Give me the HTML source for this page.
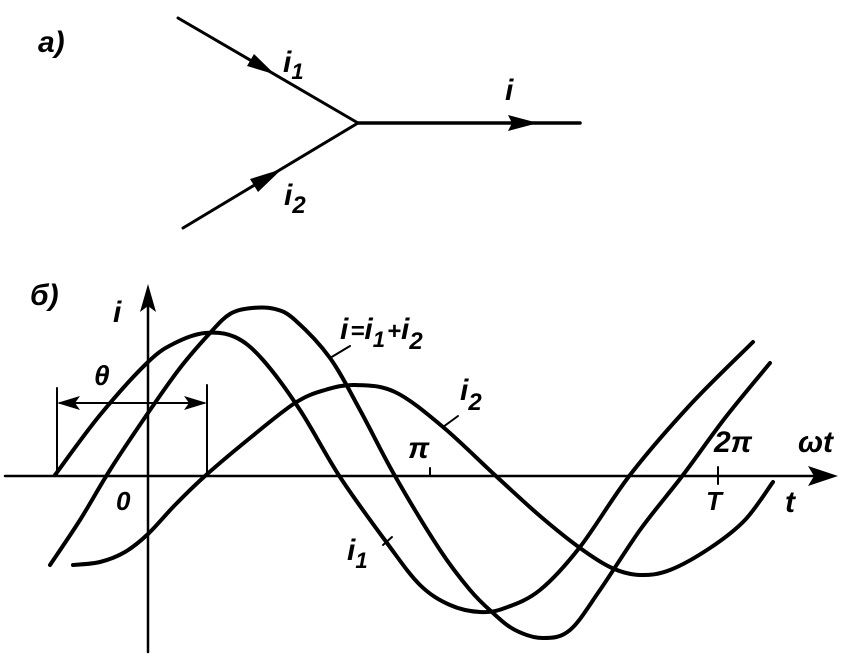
<!DOCTYPE html>
<html><head><meta charset="utf-8"><style>
html,body{margin:0;padding:0;background:#fff}
svg{display:block}
text{font-family:"Liberation Sans",sans-serif;font-style:italic;font-weight:bold;fill:#000}
</style></head><body>
<svg width="862" height="663" viewBox="0 0 862 663" xmlns="http://www.w3.org/2000/svg">
<g stroke="#000" fill="none" stroke-linecap="round" stroke-linejoin="round">
<line x1="178" y1="18" x2="358" y2="123" stroke-width="3"/>
<line x1="183" y1="228" x2="358" y2="123" stroke-width="3"/>
<line x1="358" y1="123" x2="580" y2="123" stroke-width="3.5"/>
<line x1="5" y1="476" x2="830" y2="476" stroke-width="2.5"/>
<line x1="148" y1="292" x2="148" y2="652" stroke-width="2.5"/>
<line x1="57" y1="388" x2="57" y2="476" stroke-width="2"/>
<line x1="207" y1="385" x2="207" y2="476" stroke-width="2"/>
<line x1="60" y1="403" x2="204" y2="403" stroke-width="2"/>
<line x1="430" y1="468" x2="430" y2="476" stroke-width="2"/>
<line x1="718" y1="467" x2="718" y2="484" stroke-width="2"/>
<line x1="330" y1="358" x2="350" y2="346" stroke-width="2"/>
<line x1="443" y1="427" x2="458" y2="416" stroke-width="2"/>
<line x1="383" y1="545" x2="392" y2="537" stroke-width="2"/>
<polyline class="c" stroke-width="4" points="55,475 100,415 148,362 175,343 205,333 235,337 263,360 300,410 340,477 387,543 420,585 450,605 480,612 505,608 540,590 580,547 630,475 690,405 753,342"/>
<polyline class="c" stroke-width="4" points="50,565 80,520 110,470 148,413 180,368 210,333 230,314 252,308 275,309 295,320 330,358 360,410 395,476 440,550 470,590 493,613 515,630 543,638 570,630 600,590 640,530 683,475 725,418 770,363"/>
<polyline class="c" stroke-width="4" points="73,565 100,562 125,552 148,534 175,505 205,476 250,438 295,403 325,390 355,385 395,392 443,427 497,477 540,516 580,548 612,568 640,575 670,570 710,548 745,520 773,482"/>
</g>
<g fill="#000">
<polygon points="275,74.5 247,66 254,54"/>
<polygon points="282,169 258,192 250,179"/>
<polygon points="538,123 508,115 512,123 508,131"/>
<polygon points="838,476 808,466 814,476 808,486"/>
<polygon points="148,284 140,312 148,306 156,312"/>
<polygon points="57,403 80,396 75,403 80,410"/>
<polygon points="207,403 184,396 189,403 184,410"/>
</g>
<text x="38" y="52" font-size="30">a)</text>
<text x="30" y="305" font-size="30">б)</text>
<text x="283" y="72" font-size="30">i<tspan font-size="22" dy="7">1</tspan></text>
<text x="284" y="205" font-size="30">i<tspan font-size="24" dy="8">2</tspan></text>
<text x="505" y="100" font-size="30">i</text>
<text x="113" y="322" font-size="30">i</text>
<text x="94" y="385" font-size="28">θ</text>
<text x="116" y="510" font-size="26">0</text>
<text x="340" y="339" font-size="30">i<tspan font-size="24" dx="2">=</tspan>i<tspan font-size="22" dy="8">1</tspan><tspan font-size="24" dy="-8" dx="2">+</tspan>i<tspan font-size="24" dy="10">2</tspan></text>
<text x="460" y="400" font-size="30">i<tspan font-size="24" dy="10">2</tspan></text>
<text x="347" y="560" font-size="30">i<tspan font-size="22" dy="8">1</tspan></text>
<text x="408" y="458" font-size="30">π</text>
<text x="714" y="452" font-size="30">2π</text>
<text x="798" y="452" font-size="30">ωt</text>
<text x="706" y="510" font-size="26">T</text>
<text x="785" y="512" font-size="30">t</text>
</svg>
<script>
document.querySelectorAll('polyline.c').forEach(function(pl){
var p=pl.getAttribute('points').trim().split(/\s+/).map(function(s){return s.split(',').map(Number);});
var d='M'+p[0][0]+','+p[0][1];
for(var i=0;i<p.length-1;i++){
var p0=p[i-1]||p[i],p1=p[i],p2=p[i+1],p3=p[i+2]||p2;
var c1=[p1[0]+(p2[0]-p0[0])/6,p1[1]+(p2[1]-p0[1])/6];
var c2=[p2[0]-(p3[0]-p1[0])/6,p2[1]-(p3[1]-p1[1])/6];
d+=' C'+c1[0].toFixed(1)+','+c1[1].toFixed(1)+' '+c2[0].toFixed(1)+','+c2[1].toFixed(1)+' '+p2[0]+','+p2[1];
}
var path=document.createElementNS('http://www.w3.org/2000/svg','path');
path.setAttribute('d',d);path.setAttribute('stroke-width','4');
pl.parentNode.replaceChild(path,pl);
});
</script>
</body></html>
